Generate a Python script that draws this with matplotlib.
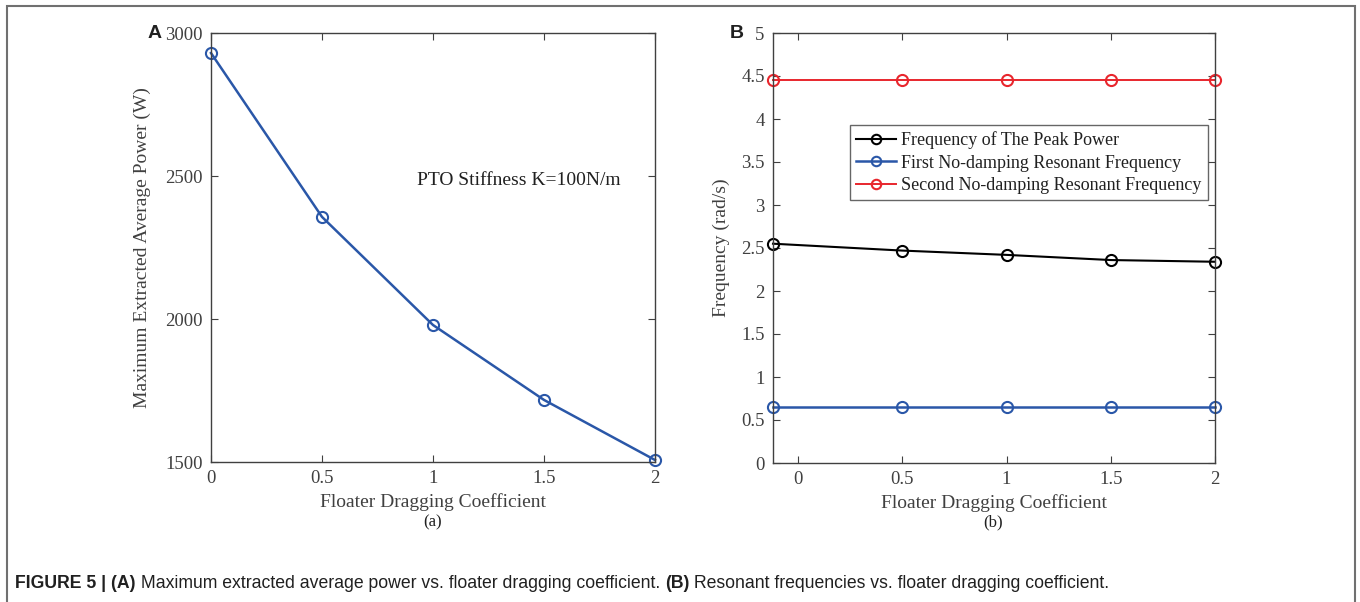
import matplotlib
matplotlib.use("Agg")

import matplotlib.pyplot as plt
from matplotlib.patches import Rectangle

# donnees
drag_a = [0, 0.5, 1, 1.5, 2]
power_max = [2930, 2357, 1979, 1717, 1507]

drag_b = [-0.12, 0.5, 1, 1.5, 2]
freq_peak = [2.55, 2.47, 2.42, 2.36, 2.34]
freq_first = [0.65, 0.65, 0.65, 0.65, 0.65]
freq_second = [4.45, 4.45, 4.45, 4.45, 4.45]

x_ticks = [0, 0.5, 1, 1.5, 2]
x_labels = ["0", "0.5", "1", "1.5", "2"]
y_ticks_a = [1500, 2000, 2500, 3000]
y_ticks_b = [0, 0.5, 1, 1.5, 2, 2.5, 3, 3.5, 4, 4.5, 5]

noms = ["Frequency of The Peak Power",
        "First No-damping Resonant Frequency",
        "Second No-damping Resonant Frequency"]

BLEU = "#2a57a8"
ROUGE = "#e8262d"
GRIS = "#404040"
SERIF = "Liberation Serif"

plt.rcParams["font.family"] = SERIF
plt.rcParams["font.size"] = 13.5

fig = plt.figure(figsize=(13.6, 6.02), dpi=100)

# cadre gris autour de la figure
fig.patches.append(Rectangle((7 / 1360, -0.05), 1348 / 1360, 1.05 - 6 / 602,
                             transform=fig.transFigure, fill=False,
                             edgecolor="#707070", lw=1.5))


def style_axes(ax):
    ax.tick_params(direction="in", top=True, right=True, length=5,
                   colors=GRIS, labelcolor=GRIS, labelsize=13.5, pad=6)
    for s in ax.spines.values():
        s.set_color(GRIS)
        s.set_linewidth(1.0)


# --- panneau A ---
ax1 = fig.add_axes([211 / 1360, 140 / 602, 444 / 1360, 429 / 602])
ax1.plot(drag_a, power_max, color=BLEU, lw=1.8, marker="o", ms=8,
         mfc="none", mec=BLEU, mew=1.5, clip_on=False)
ax1.set_xlim(0, 2)
ax1.set_ylim(1500, 3000)
ax1.set_xticks(x_ticks, x_labels)
ax1.set_yticks(y_ticks_a)
style_axes(ax1)
ax1.set_xlabel("Floater Dragging Coefficient", color=GRIS, fontsize=14, labelpad=4)
ax1.set_ylabel("Maximum Extracted Average Power (W)", color=GRIS, fontsize=14, labelpad=10)
ax1.text(0.93, 2486, "PTO Stiffness K=100N/m", fontsize=14, color="#202020", va="center")
fig.text(148 / 1360, 1 - 33 / 602, "A", family="Liberation Sans", weight="bold",
         fontsize=14, va="center", color="#202020")
fig.text(433 / 1360, 1 - 522 / 602, "(a)", fontsize=12, ha="center", va="center", color="#202020")

# --- panneau B ---
ax2 = fig.add_axes([773 / 1360, 139 / 602, 442 / 1360, 430 / 602])
ax2.plot(drag_b, freq_peak, color="black", lw=1.5, marker="o", ms=8,
         mfc="none", mec="black", mew=1.5, clip_on=False, label=noms[0])
ax2.plot(drag_b, freq_first, color=BLEU, lw=1.8, marker="o", ms=8,
         mfc="none", mec=BLEU, mew=1.5, clip_on=False, label=noms[1])
ax2.plot(drag_b, freq_second, color=ROUGE, lw=1.4, marker="o", ms=8,
         mfc="none", mec=ROUGE, mew=1.5, clip_on=False, label=noms[2])
ax2.set_xlim(-0.12, 2)
ax2.set_ylim(0, 5)
ax2.set_xticks(x_ticks, x_labels)
ax2.set_yticks(y_ticks_b, [f"{v:g}" for v in y_ticks_b])
style_axes(ax2)
ax2.set_xlabel("Floater Dragging Coefficient", color=GRIS, fontsize=14, labelpad=4)
ax2.set_ylabel("Frequency (rad/s)", color=GRIS, fontsize=14, labelpad=8)
leg = ax2.legend(loc="upper left", bbox_to_anchor=(0.174, 0.786), fontsize=13,
                 frameon=True, fancybox=False, edgecolor=GRIS, handlelength=2.2,
                 handletextpad=0.3, borderpad=0.35, labelspacing=0.3,
                 borderaxespad=0, markerscale=0.85)
leg.get_frame().set_linewidth(1.0)
for t in leg.get_texts():
    t.set_color("#202020")
fig.text(730 / 1360, 1 - 33 / 602, "B", family="Liberation Sans", weight="bold",
         fontsize=14, va="center", color="#202020")
fig.text(993 / 1360, 1 - 522 / 602, "(b)", fontsize=12, ha="center", va="center", color="#202020")

# --- legende de la figure ---
morceaux = [("FIGURE 5 | (A)", "bold"),
            (" Maximum extracted average power vs. floater dragging coefficient. ", "normal"),
            ("(B)", "bold"),
            (" Resonant frequencies vs. floater dragging coefficient.", "normal")]
for txt, poids in morceaux:
    fig.text(0, 0, txt, family="Liberation Sans", weight=poids, fontsize=12.7,
             color="#202020", va="center")
fig.canvas.draw()
r = fig.canvas.get_renderer()
x = 15
for t in fig.texts[-4:]:
    t.set_position((x / 1360, 1 - 583 / 602))
    x += t.get_window_extent(r).width

fig.savefig("out.png", dpi=100)
